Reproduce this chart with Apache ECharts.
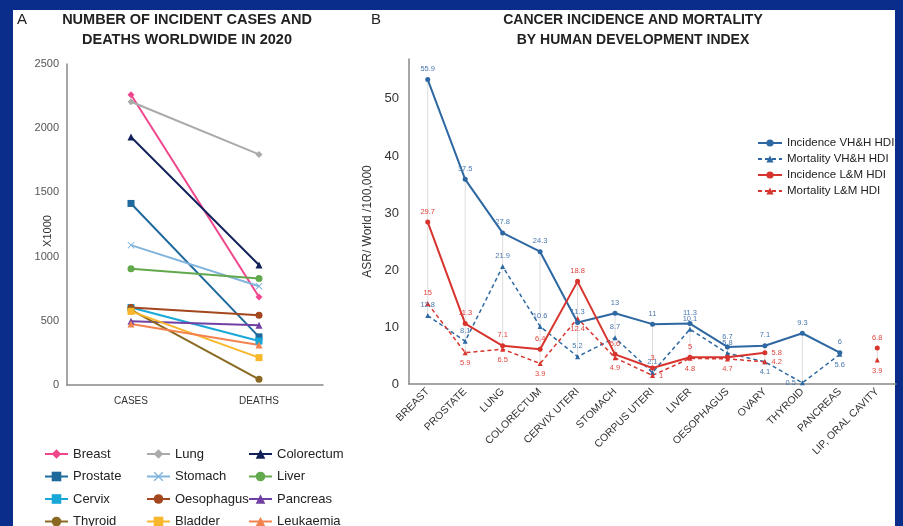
<!DOCTYPE html>
<html>
<head>
<meta charset="utf-8">
<script src="https://cdn.jsdelivr.net/npm/echarts@6/dist/echarts.min.js"></script>
<style>
html,body{margin:0;padding:0;background:#0a2d8c;}
#wrap{position:relative;width:903px;height:526px;background:#0a2d8c;overflow:hidden;}
#panel{position:absolute;left:13px;top:10px;width:882px;height:516px;background:#ffffff;}
#chart{position:absolute;left:0;top:0;width:903px;height:526px;}
</style>
</head>
<body>
<div id="wrap"><div id="panel"></div><div id="chart"></div></div>
<script>
// ---------- Panel A data (x1000) ----------
const sitesA = ['Breast','Lung','Colorectum','Prostate','Stomach','Liver','Cervix','Oesophagus','Pancreas','Thyroid','Bladder','Leukaemia'];
const casesA = [2261,2206,1931,1414,1089,906,604,604,496,586,573,475];
const deathsA = [685,1796,935,375,769,830,342,544,466,44,213,312];
const groupsA = ['CASES','DEATHS'];

// ---------- Panel B data (ASR / 100,000) ----------
const catsB = ['BREAST','PROSTATE','LUNG','COLORECTUM','CERVIX UTERI','STOMACH','CORPUS UTERI','LIVER','OESOPHAGUS','OVARY','THYROID','PANCREAS','LIP, ORAL CAVITY'];
const incVH = [53.4,35.9,26.5,23.2,10.8,12.4,10.5,10.6,6.5,6.7,8.9,5.5,null];
const incVHLabels = ['55.9','37.5','27.8','24.3','11.3','13','11','11.3','6.7','7.1','9.3','6',''];
const mortVH = [12.0,7.5,20.6,10.1,4.8,8.1,2.0,9.6,5.4,3.9,0.2,5.2,null];
const mortVHLabels = ['12.8','8.1','21.9','10.6','5.2','8.7','2.1','10.1','5.8','4.1','0.5','5.6',''];
const incLM = [28.4,10.6,6.7,6.1,18.0,5.2,2.8,4.7,4.7,5.5,null,null,6.3];
const incLMLabels = ['29.7','11.3','7.1','6.4','18.8','5.6','3','5','','5.8','','','6.8'];
const mortLM = [14.1,5.5,6.1,3.6,11.5,4.6,1.5,4.5,4.4,3.9,null,null,4.2];
const mortLMLabels = ['15','5.9','6.5','3.9','12.4','4.9','1','4.8','4.7','4.2','','','3.9'];
const seriesNamesB = ['Incidence VH&H HDI','Mortality VH&H HDI','Incidence L&M HDI','Mortality L&M HDI'];

// ---------- styling ----------
const colorsA = {
  Breast:'#f0468c', Lung:'#aaaaaa', Colorectum:'#12205a', Prostate:'#1f6a9c',
  Stomach:'#80b4dc', Liver:'#62a84c', Cervix:'#18a8d8', Oesophagus:'#a4461e',
  Pancreas:'#7040a4', Thyroid:'#8a6a22', Bladder:'#f8b62a', Leukaemia:'#f2824e'
};
const xPath = 'path://M0,1L1,0L5,4L9,0L10,1L6,5L10,9L9,10L5,6L1,10L0,9L4,5Z';
const symbolsA = {
  Breast:'diamond', Lung:'diamond', Colorectum:'triangle', Prostate:'rect',
  Stomach:xPath, Liver:'circle', Cervix:'rect', Oesophagus:'circle',
  Pancreas:'triangle', Thyroid:'circle', Bladder:'rect', Leukaemia:'triangle'
};
const BLUE = '#2e68a2', RED = '#d8342e';
const BLUE_LBL = '#4a78b0', RED_LBL = '#e0443e';

function mkData(vals, labels, defPos, overrides, col) {
  return vals.map((v, i) => ({
    value: v,
    label: {
      show: v !== null && labels[i] !== '',
      formatter: labels[i],
      position: overrides[i] || defPos,
      color: col, fontSize: 7.5, distance: 4
    }
  }));
}

const seriesA = sitesA.map((s, i) => ({
  name: s, type: 'line', xAxisIndex: 0, yAxisIndex: 0,
  data: [casesA[i], deathsA[i]],
  symbol: symbolsA[s], symbolSize: 7,
  lineStyle: {width: 2, color: colorsA[s]},
  itemStyle: {color: colorsA[s]},
  z: 3
}));

const hiB = catsB.map((c, i) => Math.max(...[incVH[i], mortVH[i], incLM[i], mortLM[i]].filter(v => v !== null)));
const loB = catsB.map((c, i) => Math.min(...[incVH[i], mortVH[i], incLM[i], mortLM[i]].filter(v => v !== null)));

const seriesB = [
  {
    type: 'custom', xAxisIndex: 1, yAxisIndex: 1, silent: true, z: 1,
    data: catsB.map((c, i) => [i, hiB[i], loB[i]]),
    encode: {x: 0, y: [1, 2]},
    renderItem: function (params, api) {
      const p1 = api.coord([api.value(0), api.value(1)]);
      const p2 = api.coord([api.value(0), api.value(2)]);
      return {type: 'line', shape: {x1: p1[0], y1: p1[1], x2: p2[0], y2: p2[1]},
              style: {stroke: '#dcdcdc', lineWidth: 1}};
    }
  },
  {
    name: seriesNamesB[0], type: 'line', xAxisIndex: 1, yAxisIndex: 1,
    data: mkData(incVH, incVHLabels, 'top', {}, BLUE_LBL),
    symbol: 'circle', symbolSize: 5,
    lineStyle: {width: 2, color: BLUE}, itemStyle: {color: BLUE}, z: 5
  },
  {
    name: seriesNamesB[1], type: 'line', xAxisIndex: 1, yAxisIndex: 1,
    data: mkData(mortVH, mortVHLabels, 'top', {9: 'bottom', 10: 'left', 11: 'bottom'}, BLUE_LBL),
    symbol: 'triangle', symbolSize: 5,
    lineStyle: {width: 1.5, color: BLUE, type: [4, 3]}, itemStyle: {color: BLUE}, z: 4
  },
  {
    name: seriesNamesB[2], type: 'line', xAxisIndex: 1, yAxisIndex: 1,
    data: mkData(incLM, incLMLabels, 'top', {9: 'right'}, RED_LBL),
    symbol: 'circle', symbolSize: 5,
    lineStyle: {width: 2, color: RED}, itemStyle: {color: RED}, z: 5
  },
  {
    name: seriesNamesB[3], type: 'line', xAxisIndex: 1, yAxisIndex: 1,
    data: mkData(mortLM, mortLMLabels, 'bottom', {0: 'top', 6: 'right', 9: 'right'}, RED_LBL),
    symbol: 'triangle', symbolSize: 5,
    lineStyle: {width: 1.5, color: RED, type: [4, 3]}, itemStyle: {color: RED}, z: 4
  }
];

const colsA = [[0, 3, 6, 9], [1, 4, 7, 10], [2, 5, 8, 11]];
const legendLefts = [44, 146, 248];
const legendsA = colsA.map((idx, k) => ({
  orient: 'vertical', left: legendLefts[k], top: 447, height: 120, padding: 0, itemGap: 8.5,
  itemWidth: 23, itemHeight: 12, data: idx.map(j => sitesA[j]),
  textStyle: {fontSize: 13, color: '#222', lineHeight: 14}, selectedMode: false
}));

const FONT = '"Liberation Sans", Arial, Helvetica, sans-serif';
const option = {
  animation: false,
  textStyle: {fontFamily: FONT},
  grid: [
    {left: 67, top: 64, width: 256, height: 321},
    {left: 409, top: 59, width: 487, height: 325}
  ],
  xAxis: [
    {gridIndex: 0, type: 'category', data: groupsA, boundaryGap: true,
     axisLine: {lineStyle: {color: '#888', width: 1.5}}, axisTick: {show: false},
     axisLabel: {color: '#333', fontSize: 10, margin: 11}},
    {gridIndex: 1, type: 'category', data: catsB, boundaryGap: true,
     axisLine: {lineStyle: {color: '#888', width: 1.5}}, axisTick: {show: false},
     axisLabel: {color: '#333', fontSize: 10.5, rotate: 45, margin: 6, interval: 0}}
  ],
  yAxis: [
    {gridIndex: 0, type: 'value', min: 0, max: 2500, interval: 500,
     axisLine: {show: true, lineStyle: {color: '#888', width: 1.5}},
     axisTick: {show: false}, splitLine: {show: false},
     axisLabel: {color: '#555', fontSize: 11, margin: 8, formatter: v => String(v)}},
    {gridIndex: 1, type: 'value', min: 0, max: 57, interval: 10,
     name: 'ASR/ World /100,000', nameLocation: 'middle', nameGap: 33, nameRotate: 90,
     nameTextStyle: {color: '#333', fontSize: 12},
     axisLine: {show: true, lineStyle: {color: '#888', width: 1.5}},
     axisTick: {show: false}, splitLine: {show: false},
     axisLabel: {color: '#333', fontSize: 13, margin: 10, showMaxLabel: false,
                 formatter: v => (v % 10 === 0 ? String(v) : '')}}
  ],
  legend: legendsA.concat([{
    orient: 'vertical', left: 757, top: 137, height: 100, padding: 0, itemGap: 4, itemWidth: 24, itemHeight: 9,
    data: seriesNamesB, textStyle: {fontSize: 11.5, color: '#222', lineHeight: 12},
    selectedMode: false
  }]),
  graphic: [
    {type: 'text', x: 17, y: 12, style: {text: 'A', font: '15px ' + FONT, fill: '#222'}},
    {type: 'text', x: 371, y: 12, style: {text: 'B', font: '15px ' + FONT, fill: '#222'}},
    {type: 'text', x: 187, y: 10, style: {text: 'NUMBER OF INCIDENT CASES AND\nDEATHS WORLDWIDE IN 2020',
      font: 'bold 14.5px ' + FONT, fill: '#222', textAlign: 'center', lineHeight: 20}},
    {type: 'text', x: 633, y: 10, style: {text: 'CANCER INCIDENCE AND MORTALITY\nBY HUMAN DEVELOPMENT INDEX',
      font: 'bold 14px ' + FONT, fill: '#222', textAlign: 'center', lineHeight: 20}},
    {type: 'text', x: 48, y: 231, rotation: Math.PI / 2,
     style: {text: 'X1000', font: '11px ' + FONT, fill: '#333', textAlign: 'center', textVerticalAlign: 'middle'}}
  ],
  series: seriesA.concat(seriesB)
};
const chart = echarts.init(document.getElementById('chart'), null, {renderer: 'canvas'});
chart.setOption(option);
</script>
</body>
</html>
